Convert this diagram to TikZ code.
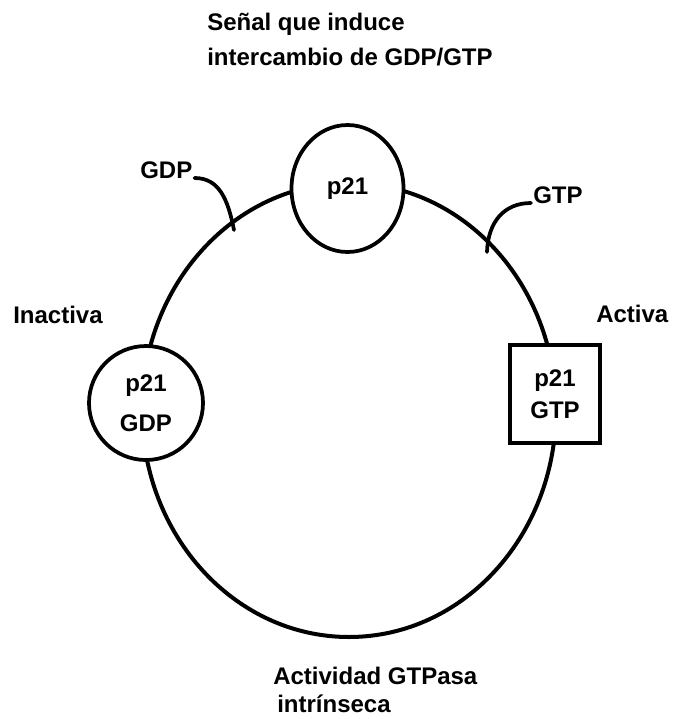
\documentclass[tikz,border=0pt]{standalone}
\usepackage{fontspec}
\setmainfont{Liberation Sans}
\usetikzlibrary{shapes.geometric}
\tikzset{
  lbl/.style={font=\bfseries\fontsize{18}{24}\selectfont, inner sep=0pt, anchor=base west},
  ring/.style={draw, ellipse, line width=3pt, inner sep=0pt},
  state/.style={draw, fill=white, line width=2.8pt, inner sep=0pt, align=center,
                font=\bfseries\fontsize{18}{24}\selectfont},
  tick/.style={line width=2.8pt, line cap=round}
}
\begin{document}
\begin{tikzpicture}[x=0.75pt,y=-0.75pt]
\useasboundingbox (0,0) rectangle (674,719);
% big cycle
\node[ring, minimum width=310.5pt, minimum height=340.5pt] (cycle) at (349,410) {};
% states
\node[state, ellipse, minimum width=84pt, minimum height=95.25pt] (top) at (347.5,188.5) {p21};
\node[state, circle, minimum size=85.5pt, font=\bfseries\fontsize{18}{30}\selectfont] (inact) at (146,403) {p21\\GDP};
\node[state, rectangle, minimum width=67.5pt, minimum height=73.5pt] (act) at (555,394) {p21\\GTP};
% labels
\node[lbl] (t1) at (207,30) {Señal que induce};
\node[lbl] (t2) at (207,65) {intercambio de GDP/GTP};
\node[lbl] (gdp) at (140,178) {GDP};
\node[lbl] (gtp) at (533,203) {GTP};
\node[lbl] (inactiva) at (13,323) {Inactiva};
\node[lbl] (activa) at (596,322) {Activa};
\node[lbl] (b1) at (273,684) {Actividad GTPasa};
\node[lbl] (b2) at (277,712) {intrínseca};
% GDP / GTP leads
\coordinate (gdpend) at (234,230);
\coordinate (gtpend) at (487,252);
\draw[tick] (gdp.base east) ++(2,0) .. controls +(25,0) and (228,200) .. (gdpend);
\draw[tick] (gtp.base west) ++(-2,0) .. controls +(-27,0) and (488,222) .. (gtpend);
\end{tikzpicture}
\end{document}
